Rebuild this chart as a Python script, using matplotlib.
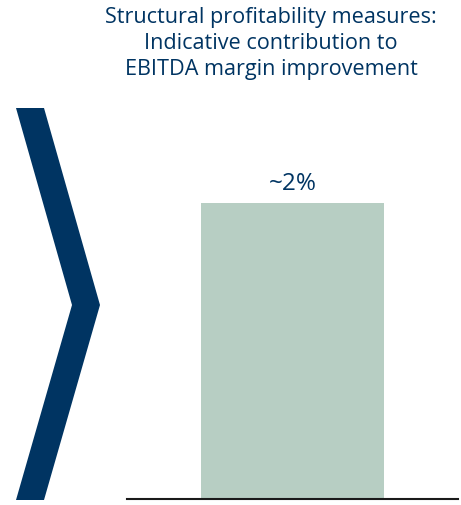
import matplotlib
matplotlib.use("Agg")
import matplotlib.pyplot as plt
from matplotlib.patches import Polygon

title = "Structural profitability measures:\nIndicative contribution to\nEBITDA margin improvement"
categories = ["Structural profitability measures"]
values = [2.0]
labels = ["~2%"]

navy = "#003462"
bar_color = "#b7cec3"
W, H = 461, 505
fig = plt.figure(figsize=(W / 100, H / 100), dpi=100)

def px(x0, y0, x1, y1):
    return [x0 / W, 1 - y1 / H, (x1 - x0) / W, (y1 - y0) / H]

# chevron decoration
deco = fig.add_axes([0, 0, 1, 1])
deco.set_xlim(0, W)
deco.set_ylim(H, 0)
deco.axis("off")
deco.add_patch(Polygon([(16, 108), (44, 108), (100, 305), (44, 500), (16, 500), (72, 305)],
                       closed=True, facecolor=navy, edgecolor="none"))

ax = fig.add_axes(px(127, 105, 458, 499))
ax.bar(categories, values, width=1.0, color=bar_color)
ax.set_xlim(-0.9, 0.9)
ax.set_ylim(0, 2.0 * 394 / 296)
for i, (v, l) in enumerate(zip(values, labels)):
    ax.annotate(l, (i, v), xytext=(0, 5), textcoords="offset points",
                ha="center", va="bottom", fontsize=17.5, color=navy, family="Open Sans")
for s in ["top", "left", "right"]:
    ax.spines[s].set_visible(False)
ax.spines["bottom"].set_color("#1a1a1a")
ax.spines["bottom"].set_linewidth(1.5)
ax.set_xticks([])
ax.set_yticks([])
ax.patch.set_alpha(0)

fig.text(271 / W, 1 - 7 / H, title, ha="center", va="top", fontsize=15.6, color=navy,
         family="Open Sans", linespacing=1.3)

fig.savefig("out.png", dpi=100)
